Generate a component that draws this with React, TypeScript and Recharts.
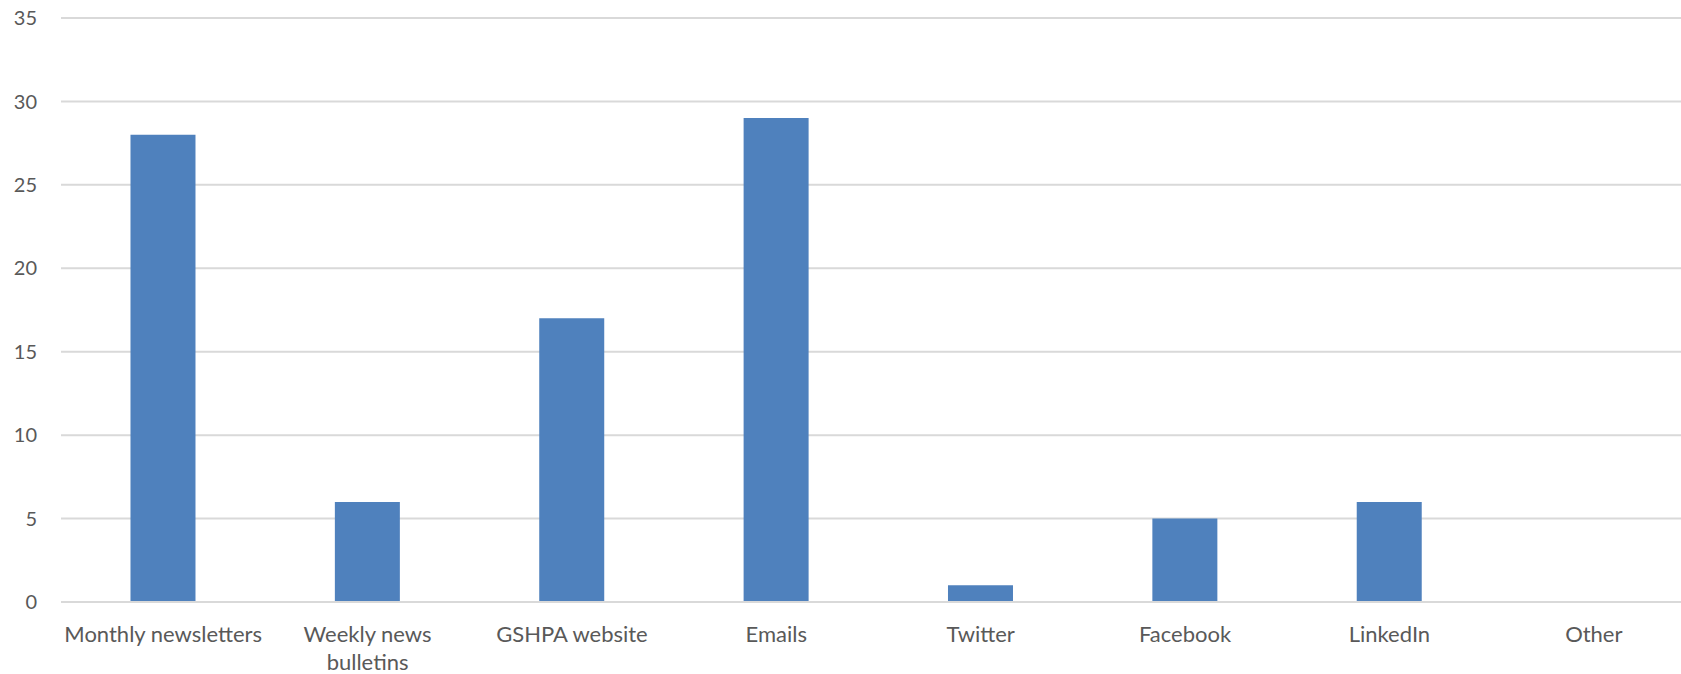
import { BarChart, Bar, XAxis, YAxis, CartesianGrid } from 'recharts'

const channels = [
    'Monthly newsletters',
    'Weekly news\nbulletins',
    'GSHPA website',
    'Emails',
    'Twitter',
    'Facebook',
    'LinkedIn',
    'Other',
]
const responses = [28, 6, 17, 29, 1, 5, 6, 0]
const yTicks = [0, 5, 10, 15, 20, 25, 30, 35]

const data = channels.map((name, i) => ({ name, value: responses[i] }))

const font = 'Lato, sans-serif'

function CategoryTick({ x, y, payload }: any) {
    const lines = String(payload.value).split('\n')
    return (
        <text x={x} y={y} textAnchor="middle" fill="#595959" fontFamily={font} fontSize={22}>
            {lines.map((line, i) => (
                <tspan key={i} x={x} dy={i === 0 ? '0.71em' : 28}>
                    {line}
                </tspan>
            ))}
        </text>
    )
}

export default function App() {
    return (
        <div style={{ position: 'absolute', left: 0, top: 0, width: 1681, height: 674, overflow: 'hidden' }}>
            <BarChart
                width={1696}
                height={674}
                data={data}
                margin={{ top: 18, right: 0, left: 0, bottom: 0 }}
                barCategoryGap="34%"
            >
                <CartesianGrid vertical={false} stroke="#d9d9d9" strokeWidth={2} />
                <XAxis
                    dataKey="name"
                    height={72}
                    axisLine={{ stroke: '#d9d9d9', strokeWidth: 2 }}
                    tickLine={false}
                    tickSize={0}
                    tickMargin={24}
                    interval={0}
                    tick={<CategoryTick />}
                />
                <YAxis
                    width={61}
                    domain={[0, 35]}
                    ticks={yTicks}
                    axisLine={false}
                    tickLine={false}
                    tickSize={0}
                    tickMargin={24}
                    tick={{ fill: '#595959', fontFamily: font, fontSize: 20 }}
                />
                <Bar dataKey="value" fill="#4F81BD" isAnimationActive={false} />
            </BarChart>
        </div>
    )
}
